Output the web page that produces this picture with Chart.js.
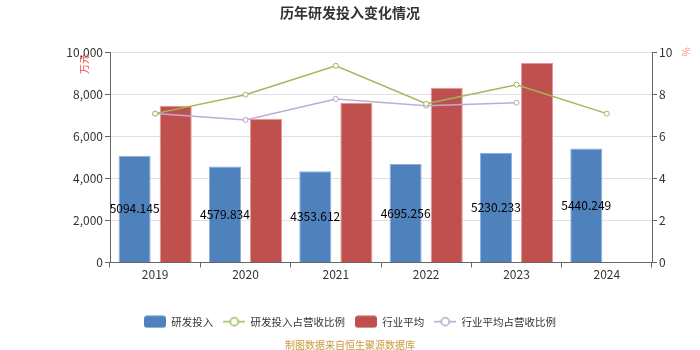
<!DOCTYPE html>
<html>
<head>
<meta charset="utf-8">
<script src="https://cdn.jsdelivr.net/npm/chart.js@4"></script>
<style>
    html, body { margin: 0; padding: 0; background: #fff; }
    #wrap { width: 700px; height: 350px; position: relative; }
</style>
</head>
<body>
<div id="wrap"><canvas id="rdChart"></canvas></div>
<script>
const years = ['2019', '2020', '2021', '2022', '2023', '2024'];
const rdSpend = [5094.145, 4579.834, 4353.612, 4695.256, 5230.233, 5440.249];
const rdRatio = [7.1, 8.0, 9.38, 7.57, 8.48, 7.1];
const industryAvg = [7480, 6860, 7620, 8330, 9520, null];
const industryRatio = [7.1, 6.8, 7.8, 7.48, 7.62, null];

const FONT = "'Microsoft YaHei', 'Noto Sans CJK SC', sans-serif";

function rectIcon(color) {
    const c = document.createElement('canvas');
    c.width = 22; c.height = 13;
    const g = c.getContext('2d');
    g.fillStyle = color;
    g.beginPath();
    g.roundRect(0, 0.5, 22, 12, 3);
    g.fill();
    return c;
}

function lineIcon(color) {
    const c = document.createElement('canvas');
    c.width = 22; c.height = 13;
    const g = c.getContext('2d');
    g.strokeStyle = color;
    g.lineWidth = 1.5;
    g.beginPath();
    g.moveTo(0, 6.5); g.lineTo(22, 6.5);
    g.stroke();
    g.beginPath();
    g.arc(11, 6.5, 4, 0, Math.PI * 2);
    g.fillStyle = '#fff';
    g.fill();
    g.stroke();
    return c;
}

const icons = [rectIcon('#4f81bd'), lineIcon('#9bbb59'), rectIcon('#c0504d'), lineIcon('#b3a2c7')];

const extras = {
    id: 'extras',
    afterDatasetsDraw(chart) {
        const { ctx } = chart;
        ctx.save();
        // value labels on the blue bars
        ctx.fillStyle = '#000';
        ctx.font = '12px ' + FONT;
        ctx.textAlign = 'center';
        ctx.textBaseline = 'middle';
        chart.getDatasetMeta(0).data.forEach((bar, i) => {
            const v = rdSpend[i];
            if (v == null) return;
            ctx.fillText(v.toFixed(3), bar.x, (bar.y + bar.base) / 2);
        });

        // axis unit labels
        ctx.fillStyle = '#ff4444';
        ctx.font = '10px ' + FONT;
        ctx.save();
        ctx.translate(84, 64);
        ctx.rotate(-Math.PI / 2);
        ctx.fillText('万元', 0, 0);
        ctx.restore();
        ctx.fillStyle = '#ff8888';
        ctx.save();
        ctx.translate(686, 52);
        ctx.rotate(-Math.PI / 2);
        ctx.fillText('%', 0, 0);
        ctx.restore();

        // source line
        ctx.fillStyle = '#c9973d';
        ctx.font = '10px ' + FONT;
        ctx.fillText('制图数据来自恒生聚源数据库', 350, 345);
        ctx.restore();
    }
};

new Chart(document.getElementById('rdChart'), {
    type: 'bar',
    data: {
        labels: years,
        datasets: [
            {
                label: '研发投入',
                data: rdSpend,
                backgroundColor: '#4f81bd',
                borderColor: '#8eb0dc',
                borderWidth: 1,
                order: 2,
                yAxisID: 'y'
            },
            {
                type: 'line',
                label: '研发投入占营收比例',
                data: rdRatio,
                borderColor: '#9bbb59',
                backgroundColor: '#fff',
                borderWidth: 1.5,
                pointRadius: 2.5,
                pointBorderWidth: 1,
                pointBackgroundColor: '#fff',
                pointBorderColor: '#9bbb59',
                order: 1,
                yAxisID: 'y1'
            },
            {
                label: '行业平均',
                data: industryAvg,
                backgroundColor: '#c0504d',
                borderColor: '#e39896',
                borderWidth: 1,
                order: 2,
                yAxisID: 'y'
            },
            {
                type: 'line',
                label: '行业平均占营收比例',
                data: industryRatio,
                borderColor: '#bcaed3',
                backgroundColor: '#fff',
                borderWidth: 1.5,
                pointRadius: 2.5,
                pointBorderWidth: 1,
                pointBackgroundColor: '#fff',
                pointBorderColor: '#b3a2c7',
                order: 1,
                yAxisID: 'y1'
            }
        ]
    },
    options: {
        responsive: true,
        maintainAspectRatio: false,
        animation: false,
        layout: { padding: { left: 0, right: 0, top: 0, bottom: 13 } },
        datasets: {
            bar: { categoryPercentage: 0.91, barPercentage: 0.78 }
        },
        plugins: {
            title: {
                display: true,
                text: '历年研发投入变化情况',
                color: '#333',
                font: { family: FONT, size: 14, weight: 'bold' },
                padding: { top: 4, bottom: 32 }
            },
            legend: {
                position: 'bottom',
                labels: {
                    usePointStyle: true,
                    pointStyleWidth: 22,
                    boxHeight: 13,
                    padding: 10,
                    color: '#333',
                    font: { family: FONT, size: 10.5 },
                    sort: (a, b) => a.datasetIndex - b.datasetIndex,
                    generateLabels(chart) {
                        return chart.data.datasets.map((ds, i) => ({
                            text: ds.label,
                            datasetIndex: i,
                            pointStyle: icons[i],
                            fillStyle: ds.backgroundColor,
                            strokeStyle: ds.borderColor,
                            lineWidth: 0,
                            hidden: false,
                            fontColor: '#333'
                        }));
                    }
                }
            },
            tooltip: { enabled: false }
        },
        scales: {
            x: {
                grid: { drawOnChartArea: false, drawTicks: true, tickLength: 5, tickColor: '#666', offset: true },
                border: { color: '#666' },
                ticks: { color: '#333', padding: 0, font: { family: FONT, size: 12 } },
                afterFit(scale) { scale.height = 44; }
            },
            y: {
                position: 'left',
                min: 0,
                max: 10000,
                ticks: { stepSize: 2000, color: '#333', padding: 2, font: { family: FONT, size: 12 } },
                grid: { color: '#e0e0e0', tickLength: 5, tickColor: '#666' },
                border: { color: '#666' },
                afterFit(scale) { scale.width = 110; }
            },
            y1: {
                position: 'right',
                min: 0,
                max: 10,
                ticks: { stepSize: 2, color: '#333', padding: 2, font: { family: FONT, size: 12 } },
                grid: { drawOnChartArea: false, tickLength: 5, tickColor: '#666' },
                border: { color: '#666' },
                afterFit(scale) { scale.width = 48; }
            }
        }
    },
    plugins: [extras]
});
</script>
</body>
</html>
